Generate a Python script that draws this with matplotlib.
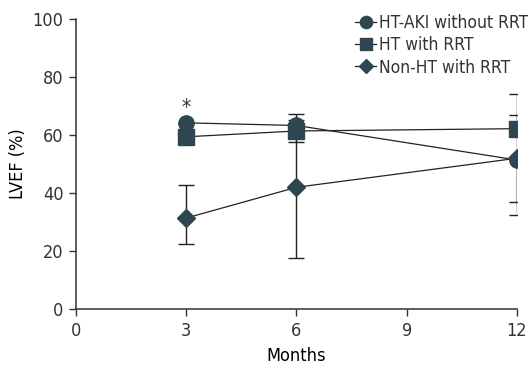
import matplotlib
matplotlib.use("Agg")
import matplotlib.pyplot as plt
import numpy as np

# LVEF over follow-up
months = [3, 6, 12]
series_names = ["HT-AKI without RRT", "HT with RRT", "Non-HT with RRT"]
lvef_aki = [64.2, 63.3, 51.4]
lvef_ht_rrt = [59.4, 61.4, 62.2]
lvef_non_ht = [31.4, 42.0, 52.0]
# (lower, upper) error for each month
err_aki = [[0.0, 0.0, 14.6], [0.0, 0.0, 15.5]]
err_ht_rrt = [[0.0, 3.8, 0.0], [0.0, 3.8, 12.0]]
err_non_ht = [[9.1, 24.5, 19.6], [11.4, 25.1, 0.0]]
x_ticks = [0, 3, 6, 9, 12]
y_ticks = [0, 20, 40, 60, 80, 100]

plt.rcParams["font.family"] = ["DejaVu Sans"]
plt.rcParams["font.stretch"] = "condensed"
plt.rcParams["font.size"] = 13
plt.rcParams["text.color"] = "#333333"
plt.rcParams["xtick.color"] = "#333333"
plt.rcParams["ytick.color"] = "#333333"

marker_color = "#2f4650"

fig = plt.figure(figsize=(5.28, 3.65), dpi=100)
ax = fig.add_axes([0.144, 0.153, 0.835, 0.795])

styles = [
    (lvef_aki, err_aki, "o", 11),
    (lvef_ht_rrt, err_ht_rrt, "s", 11),
    (lvef_non_ht, err_non_ht, "D", 9.5),
]
for name, (values, err, marker, size) in zip(series_names, styles):
    ax.errorbar(
        months, values, yerr=np.array(err), fmt="none",
        ecolor="#222222", elinewidth=1.0, capsize=5.5, capthick=1.0, zorder=1,
    )
    ax.plot(
        months, values, color="#222222", linewidth=0.9,
        marker=marker, markersize=size, markerfacecolor=marker_color,
        markeredgecolor=marker_color, label=name, zorder=2,
    )

ax.text(3, 65.8, "*", ha="center", va="bottom", fontsize=15)

ax.set_xlim(0, 12)
ax.set_ylim(0, 100)
ax.set_xticks(x_ticks)
ax.set_yticks(y_ticks)
ax.set_xlabel("Months", labelpad=5)
ax.set_ylabel("LVEF (%)", labelpad=4)
ax.tick_params(direction="out", length=5, width=1, pad=4)
for side in ("top", "right"):
    ax.spines[side].set_visible(False)
for side in ("left", "bottom"):
    ax.spines[side].set_linewidth(1.1)
    ax.spines[side].set_color("#333333")

ax.legend(
    loc="upper right", bbox_to_anchor=(1.0, 0.962), bbox_transform=fig.transFigure,
    frameon=False, handlelength=1.2, handletextpad=0.15, labelspacing=0.25,
    borderaxespad=0, borderpad=0, markerscale=0.8, fontsize=12.5,
)

fig.savefig("out.png", dpi=100)
plt.close(fig)
